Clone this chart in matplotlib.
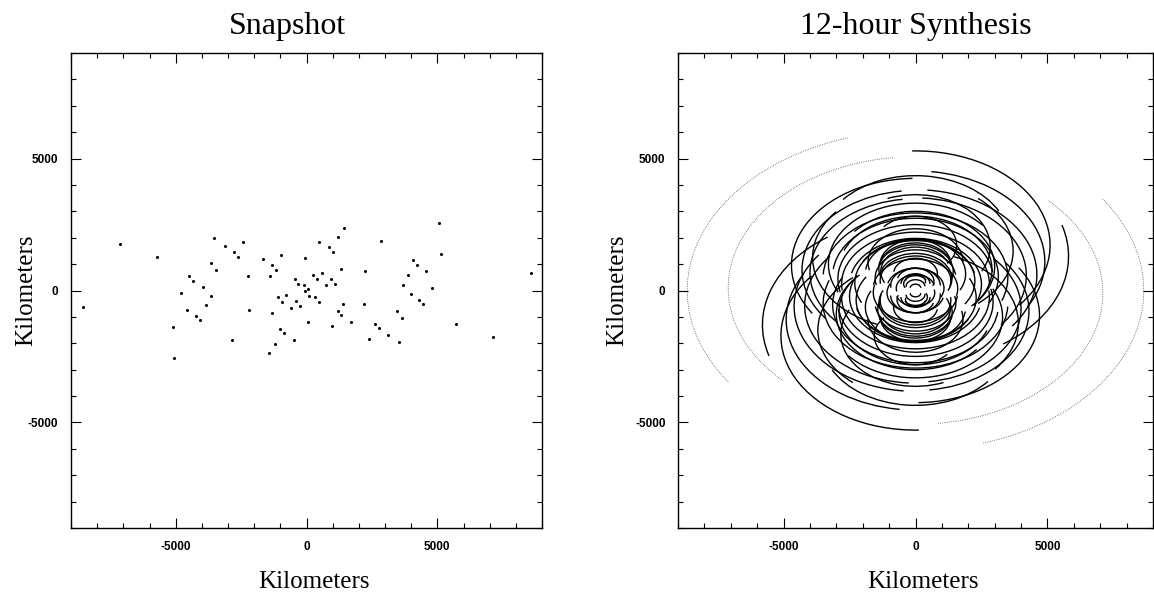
import numpy as np
import matplotlib.pyplot as plt
from matplotlib.patches import Arc
from matplotlib.ticker import MultipleLocator

plt.rcParams['axes.unicode_minus'] = False

# snapshot (u, v) samples in km
snap_u = [-7130, -5710, -3518, -3125, -2408, -2774, -2625, -3653, -3450, -4492,
          -4330, -3964, -2232, -1678, -1326, -1177, -1394, -961, -447, -325,
          -95, -40, 40, 257, 419, 582, 487, 758, 852, 920,
          1001, 1096, 1218, 1312, 1448, 2219, 2855, 3680, 3870, 4073,
          4235, 4573, 4790, 5047, 5128, 8592,
          -8560, -5117, -5049, -4779, -4577, -4212, -4064, -3848, -3645, -2835,
          -2214, -1431, -1310, -1215, -999, -851, -1094, -932, -770, -581,
          -486, -405, -230, -54, 54, 108, 324, 486, 972, 1188,
          1323, 1404, 1701, 2214, 2403, 2619, 2781, 3132, 3456, 3537,
          3659, 3983, 4307, 4469, 5697, 7115]
snap_v = [1763, 1275, 1975, 1690, 1840, 1450, 1263, 1038, 775, 550,
          363, 125, 550, 1188, 950, 775, 550, 1350, 438, 263,
          200, 1238, 38, 600, 425, 650, 1850, 200, 1638, 438,
          1450, 263, 2025, 825, 2375, 738, 1888, 225, 575, 1138,
          975, 725, 100, 2575, 1375, 650,
          -633, -1367, -2570, -89, -722, -950, -1127, -532, -203, -1874,
          -722, -2367, -836, -2026, -1456, -1608, -253, -430, -177, -646,
          -1861, -405, -570, -13, -1203, -190, -253, -418, -1342, -760,
          -924, -506, -1177, -519, -1836, -1253, -1431, -1684, -760, -1962,
          -1025, -127, -342, -506, -1253, -1772]

# 12-hour tracks: semi-axis along u (km), v offset of the centre (km),
# start / end angle about the centre (deg, CCW), dotted flag.
# Each track is drawn together with its mirror (-u, -v).
AXIS_RATIO = 0.70
trk_a = [8650, 7100, 5800, 5100, 4900, 4600, 4700, 4300, 4000, 4200,
         3500, 3900, 3700, 3300, 3000, 2800, 2500, 2300, 2250, 1900,
         1800, 1600, 1560, 1530, 1430, 1390, 1380, 1340, 1340, 1320,
         1080, 940, 830, 730, 700, 550, 450, 380, 355, 200,
         3140, 2940, 2900, 2830, 3560]
trk_c = [0, 100, 1300, 1720, 1100, 600, 960, 780, 675, 570,
         490, 1250, 1500, 1000, 900, 250, 225, 280, 360, 630,
         1080, 70, 1720, 470, 730, 830, 440, 990, 370, 720,
         90, 190, 640, 90, 350, 250, 250, 340, 160, 100,
         540, 440, 785, 1650, 1860]
trk_t1 = [114, 100, -45, -30, -22, -28, 92, 100, 100, -30,
          -15, 150, -40, 30, -35, 0, -20, 10, -25, -20,
          0, -10, -30, 5, -15, 10, -20, 0, -10, 15,
          -20, 0, -10, 10, -15, 0, 20, -10, 0, 0,
          -20, 5, -25, -20, 20]
trk_t2 = [206, 215, 12, 92, 80, 82, 205, 208, 212, 85,
          178, 240, 40, 200, 150, 185, 170, 200, 160, 175,
          190, 175, 150, 190, 170, 195, 165, 180, 185, 200,
          170, 185, 175, 190, 170, 180, 200, 175, 185, 180,
          175, 190, 165, 120, 150]
trk_dot = [True, True] + [False] * 43

fig = plt.figure(figsize=(11.54, 5.93), dpi=100)
ax1 = fig.add_axes([71 / 1154, 65 / 593, 471 / 1154, 475 / 593])
ax2 = fig.add_axes([678 / 1154, 65 / 593, 475 / 1154, 475 / 593])

ax1.plot(snap_u, snap_v, 'o', color='black', ms=2.2, mew=0)

for a, c, t1, t2, dot in zip(trk_a, trk_c, trk_t1, trk_t2, trk_dot):
    ls = (0, (0.6, 1.6)) if dot else '-'
    lw = 0.6 if dot else 1.0
    # track and its conjugate
    for sgn, rot in ((1, 0), (-1, 180)):
        ax2.add_patch(Arc((0, sgn * c), 2 * a, 2 * a * AXIS_RATIO,
                          theta1=t1 + rot, theta2=t2 + rot,
                          color='black', lw=lw, linestyle=ls))

serif = 'Liberation Serif'
for ax, title, tx, ylx in ((ax1, 'Snapshot', 0.46, -0.072),
                           (ax2, '12-hour Synthesis', 0.5, -0.104)):
    ax.set_xlim(-9000, 9000)
    ax.set_ylim(-9000, 9000)
    ax.set_xticks([-5000, 0, 5000])
    ax.set_yticks([-5000, 0, 5000])
    ax.xaxis.set_minor_locator(MultipleLocator(1000))
    ax.yaxis.set_minor_locator(MultipleLocator(1000))
    ax.tick_params(which='both', direction='in', top=True, right=True,
                   labelsize=8.5, pad=9, width=0.8)
    ax.tick_params(which='major', length=7)
    ax.tick_params(which='minor', length=3.5)
    for lab in ax.get_xticklabels() + ax.get_yticklabels():
        lab.set_family('Liberation Sans')
        lab.set_fontweight('bold')
    for sp in ax.spines.values():
        sp.set_linewidth(1.0)
    ax.set_title(title, family=serif, fontsize=23, pad=14, x=tx)
    ax.set_xlabel('Kilometers', family=serif, fontsize=18, labelpad=13, x=0.515)
    ax.set_ylabel('Kilometers', family=serif, fontsize=18)
    ax.yaxis.set_label_coords(ylx, 0.5)

fig.savefig('out.png', dpi=100)
